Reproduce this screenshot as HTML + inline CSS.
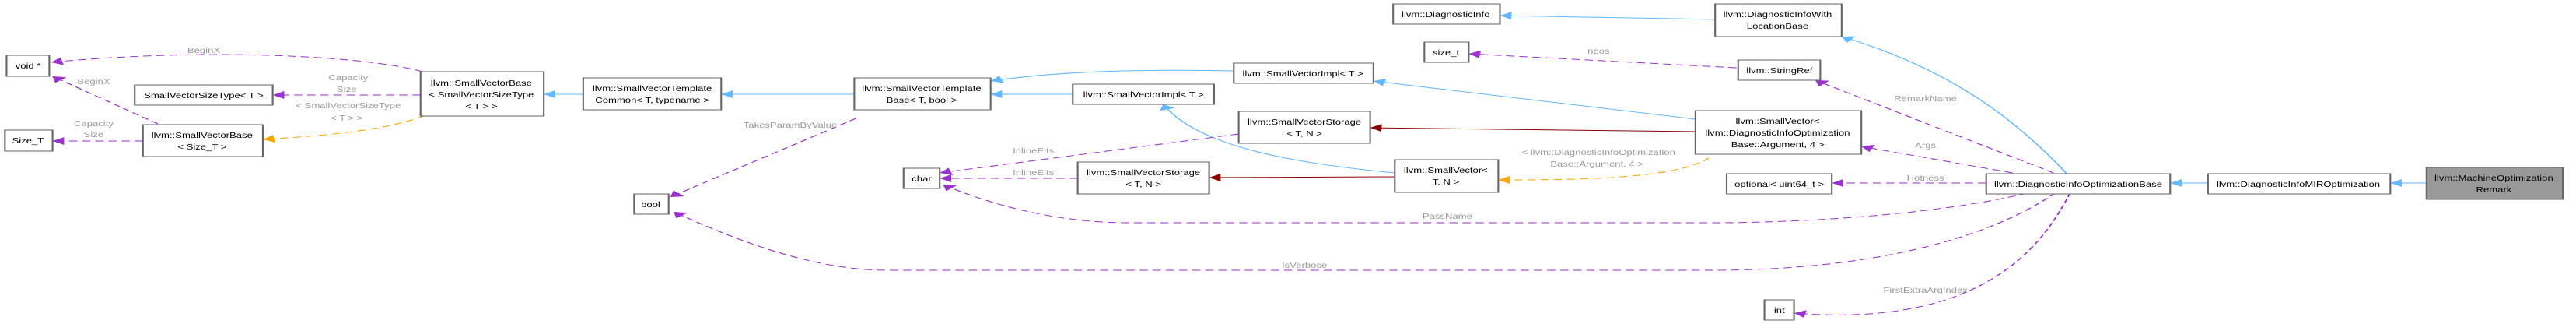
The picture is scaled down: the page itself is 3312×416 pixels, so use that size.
<!DOCTYPE html>
<html><head><meta charset="utf-8"><style>
html,body{margin:0;padding:0;background:#fff;}
svg{display:block;}
text{font-family:"Liberation Sans",sans-serif;font-size:10px;text-anchor:middle;transform-box:fill-box;transform-origin:center;transform:scaleX(0.62);}
.l{fill:#9a9a9a;}
.n{fill:#fff;stroke:#666;stroke-width:1;}
.b{stroke:#63b8ff;fill:none;stroke-width:1;}
.p{stroke:#9a32cd;fill:none;stroke-width:1;stroke-dasharray:5,3;}
.o{stroke:#ffa500;fill:none;stroke-width:1;stroke-dasharray:5,3;}
.r{stroke:#8b0000;fill:none;stroke-width:1;}
</style></head><body>
<svg width="3312" height="416" viewBox="0 0 1568 416" preserveAspectRatio="none" xmlns="http://www.w3.org/2000/svg">
<defs>
<marker id="mb" markerUnits="userSpaceOnUse" markerWidth="10" markerHeight="12" refX="7" refY="5" orient="auto"><path d="M0,0 L7,5 L0,10 Z" fill="#63b8ff"/></marker>
<marker id="mp" markerUnits="userSpaceOnUse" markerWidth="10" markerHeight="12" refX="7" refY="5" orient="auto"><path d="M0,0 L7,5 L0,10 Z" fill="#9a32cd"/></marker>
<marker id="mo" markerUnits="userSpaceOnUse" markerWidth="10" markerHeight="12" refX="7" refY="5" orient="auto"><path d="M0,0 L7,5 L0,10 Z" fill="#ffa500"/></marker>
<marker id="mr" markerUnits="userSpaceOnUse" markerWidth="10" markerHeight="12" refX="7" refY="5" orient="auto"><path d="M0,0 L7,5 L0,10 Z" fill="#8b0000"/></marker>
</defs>

<!-- edges -->
<path class="p" d="M257,92 C220,70 120,62 31,80" marker-end="url(#mp)"/>
<path class="p" d="M256,122 L166,122" marker-end="url(#mp)"/>
<path class="o" d="M258,149 C230,170 190,175 160,179" marker-end="url(#mo)"/>
<path class="p" d="M96,159 L32,98" marker-end="url(#mp)"/>
<path class="p" d="M87,181 L32,181" marker-end="url(#mp)"/>
<path class="b" d="M355,121 L331,121" marker-end="url(#mb)"/>
<path class="b" d="M520,121 L439,121" marker-end="url(#mb)"/>
<path class="p" d="M521,152 L408,253" marker-end="url(#mp)"/>
<path class="p" d="M1251,248 C1200,320 1120,347 1042,347 L540,347 C490,347 440,300 410,272" marker-end="url(#mp)"/>
<path class="b" d="M751,91 C700,89 650,90 603,104" marker-end="url(#mb)"/>
<path class="b" d="M653,121 L603,121" marker-end="url(#mb)"/>
<path class="b" d="M1032,153 L836,104" marker-end="url(#mb)"/>
<path class="r" d="M1032,169 L834,164" marker-end="url(#mr)"/>
<path class="b" d="M849,222 C790,210 730,190 708,134" marker-end="url(#mb)"/>
<path class="r" d="M849,227 L736,228" marker-end="url(#mr)"/>
<path class="o" d="M1040,203 C1020,230 960,231 912,231" marker-end="url(#mo)"/>
<path class="p" d="M754,172 L572,222" marker-end="url(#mp)"/>
<path class="p" d="M656,229 L572,229" marker-end="url(#mp)"/>
<path class="p" d="M1234,248 C1180,275 1100,286 1042,286 L687,286 C640,286 600,260 574,237" marker-end="url(#mp)"/>
<path class="p" d="M1057,87 L894,69" marker-end="url(#mp)"/>
<path class="b" d="M1044,25 L913,20" marker-end="url(#mb)"/>
<path class="b" d="M1258,223 C1230,160 1190,90 1121,47" marker-end="url(#mb)"/>
<path class="p" d="M1250,222 L1105,103" marker-end="url(#mp)"/>
<path class="p" d="M1225,222 L1133,188" marker-end="url(#mp)"/>
<path class="p" d="M1209,235 L1115,235" marker-end="url(#mp)"/>
<path class="p" d="M1260,248 C1240,330 1200,420 1092,402" marker-end="url(#mp)"/>
<path class="b" d="M1344,235 L1321,235" marker-end="url(#mb)"/>
<path class="b" d="M1477,235 L1455,235" marker-end="url(#mb)"/>

<!-- edge labels -->
<text class="l" x="124" y="68">BeginX</text>
<text class="l" x="212" y="103">Capacity</text>
<text class="l" x="211" y="118">Size</text>
<text class="l" x="212" y="139">&lt; SmallVectorSizeType</text>
<text class="l" x="211" y="155">&lt; T &gt; &gt;</text>
<text class="l" x="57" y="108">BeginX</text>
<text class="l" x="57" y="162">Capacity</text>
<text class="l" x="57" y="176">Size</text>
<text class="l" x="481" y="164">TakesParamByValue</text>
<text class="l" x="794" y="344">IsVerbose</text>
<text class="l" x="629" y="197">InlineElts</text>
<text class="l" x="629" y="225">InlineElts</text>
<text class="l" x="881" y="281">PassName</text>
<text class="l" x="973" y="69">npos</text>
<text class="l" x="973" y="199">&lt; llvm::DiagnosticInfoOptimization</text>
<text class="l" x="972" y="214">Base::Argument, 4 &gt;</text>
<text class="l" x="1172" y="130">RemarkName</text>
<text class="l" x="1172" y="190">Args</text>
<text class="l" x="1172" y="232">Hotness</text>
<text class="l" x="1172" y="376">FirstExtraArgIndex</text>

<!-- nodes -->
<rect class="n" x="4" y="71" width="26" height="27"/><text x="17" y="88">void *</text>
<rect class="n" x="82" y="109" width="84" height="26"/><text x="124" y="126">SmallVectorSizeType&lt; T &gt;</text>
<rect class="n" x="3" y="167" width="29" height="27"/><text x="17" y="184">Size_T</text>
<rect class="n" x="87" y="160" width="73" height="41"/><text x="123" y="177">llvm::SmallVectorBase</text><text x="123" y="192">&lt; Size_T &gt;</text>
<rect class="n" x="256" y="92" width="75" height="57"/><text x="293" y="110">llvm::SmallVectorBase</text><text x="293" y="125">&lt; SmallVectorSizeType</text><text x="293" y="140">&lt; T &gt; &gt;</text>
<rect class="n" x="355" y="100" width="84" height="41"/><text x="397" y="117">llvm::SmallVectorTemplate</text><text x="397" y="132">Common&lt; T, typename &gt;</text>
<rect class="n" x="386" y="249" width="21" height="26"/><text x="396" y="266">bool</text>
<rect class="n" x="520" y="100" width="83" height="41"/><text x="561" y="117">llvm::SmallVectorTemplate</text><text x="561" y="132">Base&lt; T, bool &gt;</text>
<rect class="n" x="848" y="5" width="65" height="26"/><text x="880" y="22">llvm::DiagnosticInfo</text>
<rect class="n" x="867" y="54" width="27" height="26"/><text x="880" y="71">size_t</text>
<rect class="n" x="751" y="81" width="85" height="26"/><text x="793" y="98">llvm::SmallVectorImpl&lt; T &gt;</text>
<rect class="n" x="653" y="108" width="86" height="26"/><text x="696" y="125">llvm::SmallVectorImpl&lt; T &gt;</text>
<rect class="n" x="754" y="143" width="80" height="41"/><text x="794" y="160">llvm::SmallVectorStorage</text><text x="794" y="175">&lt; T, N &gt;</text>
<rect class="n" x="550" y="216" width="22" height="26"/><text x="561" y="233">char</text>
<rect class="n" x="656" y="208" width="80" height="41"/><text x="696" y="225">llvm::SmallVectorStorage</text><text x="696" y="240">&lt; T, N &gt;</text>
<rect class="n" x="849" y="205" width="63" height="42"/><text x="880" y="222">llvm::SmallVector&lt;</text><text x="880" y="237">T, N &gt;</text>
<rect class="n" x="1032" y="142" width="101" height="56"/><text x="1082" y="159">llvm::SmallVector&lt;</text><text x="1082" y="174">llvm::DiagnosticInfoOptimization</text><text x="1082" y="189">Base::Argument, 4 &gt;</text>
<rect class="n" x="1044" y="5" width="77" height="42"/><text x="1082" y="22">llvm::DiagnosticInfoWith</text><text x="1082" y="37">LocationBase</text>
<rect class="n" x="1058" y="77" width="50" height="26"/><text x="1083" y="94">llvm::StringRef</text>
<rect class="n" x="1051" y="223" width="64" height="26"/><text x="1083" y="240">optional&lt; uint64_t &gt;</text>
<rect class="n" x="1209" y="223" width="112" height="26"/><text x="1265" y="240">llvm::DiagnosticInfoOptimizationBase</text>
<rect class="n" x="1344" y="223" width="111" height="26"/><text x="1399" y="240">llvm::DiagnosticInfoMIROptimization</text>
<rect x="1477" y="215" width="83" height="41" fill="#999" stroke="#666" stroke-width="1"/><text x="1518" y="232">llvm::MachineOptimization</text><text x="1518" y="247">Remark</text>
<rect class="n" x="1074" y="385" width="18" height="26"/><text x="1083" y="402">int</text>
</svg>
</body></html>
